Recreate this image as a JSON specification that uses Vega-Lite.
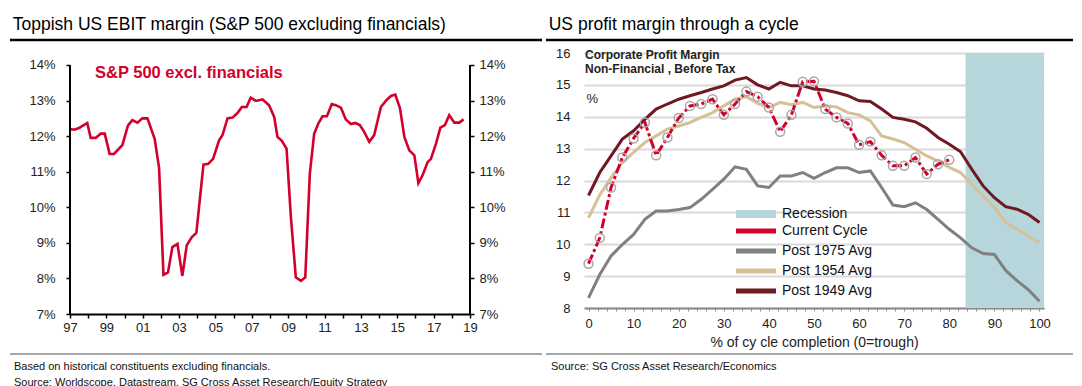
{
  "$schema": "https://vega.github.io/schema/vega-lite/v6.json",
  "padding": {"left": 8, "top": 16, "right": 7, "bottom": 0},
  "spacing": 0,
  "resolve": {"legend": {"color": "independent"}, "scale": {"color": "independent"}},
  "config": {
    "font": "Liberation Sans",
    "view": {"stroke": null},
    "title": {"fontSize": 17.5, "fontWeight": "normal", "color": "#000", "anchor": "start", "frame": "bounds", "dx": 4, "offset": 5}
  },
  "datasets": {
    "ebit": [
      {"year": 1997.00, "margin": 12.2}, {"year": 1997.22, "margin": 12.18}, {"year": 1997.50, "margin": 12.23}, {"year": 1997.95, "margin": 12.37},
      {"year": 1998.14, "margin": 11.95}, {"year": 1998.41, "margin": 11.95}, {"year": 1998.69, "margin": 12.07}, {"year": 1998.91, "margin": 12.07},
      {"year": 1999.18, "margin": 11.5}, {"year": 1999.42, "margin": 11.5}, {"year": 1999.88, "margin": 11.75}, {"year": 2000.19, "margin": 12.3},
      {"year": 2000.43, "margin": 12.45}, {"year": 2000.71, "margin": 12.38}, {"year": 2000.98, "margin": 12.5}, {"year": 2001.26, "margin": 12.5},
      {"year": 2001.66, "margin": 11.92}, {"year": 2001.90, "margin": 11.1}, {"year": 2002.14, "margin": 8.1}, {"year": 2002.39, "margin": 8.17},
      {"year": 2002.63, "margin": 8.88}, {"year": 2002.91, "margin": 8.97}, {"year": 2003.18, "margin": 8.07}, {"year": 2003.42, "margin": 8.93},
      {"year": 2003.70, "margin": 9.16}, {"year": 2003.95, "margin": 9.28}, {"year": 2004.34, "margin": 11.2}, {"year": 2004.61, "margin": 11.22},
      {"year": 2004.87, "margin": 11.36}, {"year": 2005.20, "margin": 11.88}, {"year": 2005.39, "margin": 12.03}, {"year": 2005.66, "margin": 12.5},
      {"year": 2005.94, "margin": 12.52}, {"year": 2006.21, "margin": 12.65}, {"year": 2006.45, "margin": 12.82}, {"year": 2006.71, "margin": 12.82},
      {"year": 2006.94, "margin": 13.08}, {"year": 2007.22, "margin": 12.99}, {"year": 2007.59, "margin": 13.03}, {"year": 2007.95, "margin": 12.87},
      {"year": 2008.23, "margin": 12.54}, {"year": 2008.41, "margin": 11.98}, {"year": 2008.65, "margin": 11.87}, {"year": 2008.91, "margin": 11.65},
      {"year": 2009.15, "margin": 9.72}, {"year": 2009.42, "margin": 8.03}, {"year": 2009.70, "margin": 7.93}, {"year": 2009.94, "margin": 8.03},
      {"year": 2010.19, "margin": 10.94}, {"year": 2010.43, "margin": 12.07}, {"year": 2010.67, "margin": 12.37}, {"year": 2010.89, "margin": 12.56},
      {"year": 2011.13, "margin": 12.56}, {"year": 2011.40, "margin": 12.9}, {"year": 2011.62, "margin": 12.87}, {"year": 2011.90, "margin": 12.8},
      {"year": 2012.17, "margin": 12.47}, {"year": 2012.45, "margin": 12.34}, {"year": 2012.69, "margin": 12.37}, {"year": 2012.94, "margin": 12.31},
      {"year": 2013.18, "margin": 12.12}, {"year": 2013.46, "margin": 11.84}, {"year": 2013.73, "margin": 12.03}, {"year": 2014.10, "margin": 12.82},
      {"year": 2014.38, "margin": 13.0}, {"year": 2014.65, "margin": 13.13}, {"year": 2014.89, "margin": 13.17}, {"year": 2015.15, "margin": 12.78},
      {"year": 2015.39, "margin": 11.98}, {"year": 2015.66, "margin": 11.6}, {"year": 2015.94, "margin": 11.46}, {"year": 2016.16, "margin": 10.68},
      {"year": 2016.39, "margin": 10.9}, {"year": 2016.67, "margin": 11.27}, {"year": 2016.85, "margin": 11.36}, {"year": 2017.13, "margin": 11.79},
      {"year": 2017.37, "margin": 12.24}, {"year": 2017.62, "margin": 12.31}, {"year": 2017.86, "margin": 12.59}, {"year": 2018.14, "margin": 12.38},
      {"year": 2018.41, "margin": 12.38}, {"year": 2018.65, "margin": 12.47}
    ],
    "averages": [
      {"pct": 0, "series": "Post 1975 Avg", "margin": 8.32}, {"pct": 2.5, "series": "Post 1975 Avg", "margin": 9.05}, {"pct": 5, "series": "Post 1975 Avg", "margin": 9.63}, {"pct": 7.5, "series": "Post 1975 Avg", "margin": 9.99},
      {"pct": 10, "series": "Post 1975 Avg", "margin": 10.31}, {"pct": 12.5, "series": "Post 1975 Avg", "margin": 10.78}, {"pct": 15, "series": "Post 1975 Avg", "margin": 11.04}, {"pct": 17.5, "series": "Post 1975 Avg", "margin": 11.04},
      {"pct": 20, "series": "Post 1975 Avg", "margin": 11.09}, {"pct": 22.5, "series": "Post 1975 Avg", "margin": 11.15}, {"pct": 25, "series": "Post 1975 Avg", "margin": 11.41}, {"pct": 27.5, "series": "Post 1975 Avg", "margin": 11.72},
      {"pct": 30, "series": "Post 1975 Avg", "margin": 12.04}, {"pct": 32.5, "series": "Post 1975 Avg", "margin": 12.43}, {"pct": 35, "series": "Post 1975 Avg", "margin": 12.35}, {"pct": 37.5, "series": "Post 1975 Avg", "margin": 11.83},
      {"pct": 40, "series": "Post 1975 Avg", "margin": 11.78}, {"pct": 42.5, "series": "Post 1975 Avg", "margin": 12.14}, {"pct": 45, "series": "Post 1975 Avg", "margin": 12.14}, {"pct": 47.5, "series": "Post 1975 Avg", "margin": 12.25},
      {"pct": 50, "series": "Post 1975 Avg", "margin": 12.07}, {"pct": 52.5, "series": "Post 1975 Avg", "margin": 12.25}, {"pct": 55, "series": "Post 1975 Avg", "margin": 12.4}, {"pct": 57.5, "series": "Post 1975 Avg", "margin": 12.4},
      {"pct": 60, "series": "Post 1975 Avg", "margin": 12.25}, {"pct": 62.5, "series": "Post 1975 Avg", "margin": 12.3}, {"pct": 65, "series": "Post 1975 Avg", "margin": 11.78}, {"pct": 67.5, "series": "Post 1975 Avg", "margin": 11.23},
      {"pct": 70, "series": "Post 1975 Avg", "margin": 11.18}, {"pct": 72.5, "series": "Post 1975 Avg", "margin": 11.3}, {"pct": 75, "series": "Post 1975 Avg", "margin": 11.09}, {"pct": 77.5, "series": "Post 1975 Avg", "margin": 10.78},
      {"pct": 80, "series": "Post 1975 Avg", "margin": 10.47}, {"pct": 82.5, "series": "Post 1975 Avg", "margin": 10.2}, {"pct": 85, "series": "Post 1975 Avg", "margin": 9.89}, {"pct": 87.5, "series": "Post 1975 Avg", "margin": 9.71},
      {"pct": 90, "series": "Post 1975 Avg", "margin": 9.68}, {"pct": 92.5, "series": "Post 1975 Avg", "margin": 9.18}, {"pct": 95, "series": "Post 1975 Avg", "margin": 8.86}, {"pct": 97.5, "series": "Post 1975 Avg", "margin": 8.58},
      {"pct": 100, "series": "Post 1975 Avg", "margin": 8.21},
      {"pct": 0, "series": "Post 1954 Avg", "margin": 10.83}, {"pct": 2.5, "series": "Post 1954 Avg", "margin": 11.55}, {"pct": 5, "series": "Post 1954 Avg", "margin": 12.09}, {"pct": 7.5, "series": "Post 1954 Avg", "margin": 12.56},
      {"pct": 10, "series": "Post 1954 Avg", "margin": 12.88}, {"pct": 12.5, "series": "Post 1954 Avg", "margin": 13.19}, {"pct": 15, "series": "Post 1954 Avg", "margin": 13.4}, {"pct": 17.5, "series": "Post 1954 Avg", "margin": 13.61},
      {"pct": 20, "series": "Post 1954 Avg", "margin": 13.71}, {"pct": 22.5, "series": "Post 1954 Avg", "margin": 13.82}, {"pct": 25, "series": "Post 1954 Avg", "margin": 13.98}, {"pct": 27.5, "series": "Post 1954 Avg", "margin": 14.13},
      {"pct": 30, "series": "Post 1954 Avg", "margin": 14.34}, {"pct": 32.5, "series": "Post 1954 Avg", "margin": 14.55}, {"pct": 35, "series": "Post 1954 Avg", "margin": 14.63}, {"pct": 37.5, "series": "Post 1954 Avg", "margin": 14.42},
      {"pct": 40, "series": "Post 1954 Avg", "margin": 14.29}, {"pct": 42.5, "series": "Post 1954 Avg", "margin": 14.45}, {"pct": 45, "series": "Post 1954 Avg", "margin": 14.38}, {"pct": 47.5, "series": "Post 1954 Avg", "margin": 14.45},
      {"pct": 50, "series": "Post 1954 Avg", "margin": 14.29}, {"pct": 52.5, "series": "Post 1954 Avg", "margin": 14.34}, {"pct": 55, "series": "Post 1954 Avg", "margin": 14.31}, {"pct": 57.5, "series": "Post 1954 Avg", "margin": 14.13},
      {"pct": 60, "series": "Post 1954 Avg", "margin": 14.06}, {"pct": 62.5, "series": "Post 1954 Avg", "margin": 13.87}, {"pct": 65, "series": "Post 1954 Avg", "margin": 13.4}, {"pct": 67.5, "series": "Post 1954 Avg", "margin": 13.3},
      {"pct": 70, "series": "Post 1954 Avg", "margin": 13.19}, {"pct": 72.5, "series": "Post 1954 Avg", "margin": 12.98}, {"pct": 75, "series": "Post 1954 Avg", "margin": 12.77}, {"pct": 77.5, "series": "Post 1954 Avg", "margin": 12.61},
      {"pct": 80, "series": "Post 1954 Avg", "margin": 12.41}, {"pct": 82.5, "series": "Post 1954 Avg", "margin": 12.25}, {"pct": 85, "series": "Post 1954 Avg", "margin": 11.88}, {"pct": 87.5, "series": "Post 1954 Avg", "margin": 11.51},
      {"pct": 90, "series": "Post 1954 Avg", "margin": 11.15}, {"pct": 92.5, "series": "Post 1954 Avg", "margin": 10.68}, {"pct": 95, "series": "Post 1954 Avg", "margin": 10.47}, {"pct": 97.5, "series": "Post 1954 Avg", "margin": 10.26},
      {"pct": 100, "series": "Post 1954 Avg", "margin": 10.05},
      {"pct": 0, "series": "Post 1949 Avg", "margin": 11.53}, {"pct": 2.5, "series": "Post 1949 Avg", "margin": 12.25}, {"pct": 5, "series": "Post 1949 Avg", "margin": 12.77}, {"pct": 7.5, "series": "Post 1949 Avg", "margin": 13.3},
      {"pct": 10, "series": "Post 1949 Avg", "margin": 13.56}, {"pct": 12.5, "series": "Post 1949 Avg", "margin": 13.92}, {"pct": 15, "series": "Post 1949 Avg", "margin": 14.24}, {"pct": 17.5, "series": "Post 1949 Avg", "margin": 14.4},
      {"pct": 20, "series": "Post 1949 Avg", "margin": 14.55}, {"pct": 22.5, "series": "Post 1949 Avg", "margin": 14.66}, {"pct": 25, "series": "Post 1949 Avg", "margin": 14.76}, {"pct": 27.5, "series": "Post 1949 Avg", "margin": 14.87},
      {"pct": 30, "series": "Post 1949 Avg", "margin": 14.97}, {"pct": 32.5, "series": "Post 1949 Avg", "margin": 15.15}, {"pct": 35, "series": "Post 1949 Avg", "margin": 15.23}, {"pct": 37.5, "series": "Post 1949 Avg", "margin": 15.0},
      {"pct": 40, "series": "Post 1949 Avg", "margin": 14.87}, {"pct": 42.5, "series": "Post 1949 Avg", "margin": 15.08}, {"pct": 45, "series": "Post 1949 Avg", "margin": 14.97}, {"pct": 47.5, "series": "Post 1949 Avg", "margin": 14.97},
      {"pct": 50, "series": "Post 1949 Avg", "margin": 14.87}, {"pct": 52.5, "series": "Post 1949 Avg", "margin": 14.84}, {"pct": 55, "series": "Post 1949 Avg", "margin": 14.76}, {"pct": 57.5, "series": "Post 1949 Avg", "margin": 14.66},
      {"pct": 60, "series": "Post 1949 Avg", "margin": 14.5}, {"pct": 62.5, "series": "Post 1949 Avg", "margin": 14.48}, {"pct": 65, "series": "Post 1949 Avg", "margin": 14.24}, {"pct": 67.5, "series": "Post 1949 Avg", "margin": 13.98},
      {"pct": 70, "series": "Post 1949 Avg", "margin": 13.92}, {"pct": 72.5, "series": "Post 1949 Avg", "margin": 13.84}, {"pct": 75, "series": "Post 1949 Avg", "margin": 13.64}, {"pct": 77.5, "series": "Post 1949 Avg", "margin": 13.35},
      {"pct": 80, "series": "Post 1949 Avg", "margin": 13.14}, {"pct": 82.5, "series": "Post 1949 Avg", "margin": 12.9}, {"pct": 85, "series": "Post 1949 Avg", "margin": 12.35}, {"pct": 87.5, "series": "Post 1949 Avg", "margin": 11.83},
      {"pct": 90, "series": "Post 1949 Avg", "margin": 11.46}, {"pct": 92.5, "series": "Post 1949 Avg", "margin": 11.18}, {"pct": 95, "series": "Post 1949 Avg", "margin": 11.1}, {"pct": 97.5, "series": "Post 1949 Avg", "margin": 10.94},
      {"pct": 100, "series": "Post 1949 Avg", "margin": 10.68}
    ],
    "current": [
      {"pct": 0, "margin": 9.39}, {"pct": 2.5, "margin": 10.2}, {"pct": 5, "margin": 11.78}, {"pct": 7.5, "margin": 12.72},
      {"pct": 10, "margin": 13.32}, {"pct": 12.5, "margin": 13.82}, {"pct": 15, "margin": 12.79}, {"pct": 17.5, "margin": 13.35},
      {"pct": 20, "margin": 13.96}, {"pct": 22.5, "margin": 14.34}, {"pct": 25, "margin": 14.4}, {"pct": 27.5, "margin": 14.55},
      {"pct": 30, "margin": 14.06}, {"pct": 32.5, "margin": 14.4}, {"pct": 35, "margin": 14.79}, {"pct": 37.5, "margin": 14.63},
      {"pct": 40, "margin": 14.29}, {"pct": 42.5, "margin": 13.53}, {"pct": 45, "margin": 14.06}, {"pct": 47.5, "margin": 15.1},
      {"pct": 50, "margin": 15.11}, {"pct": 52.5, "margin": 14.24}, {"pct": 55, "margin": 13.98}, {"pct": 57.5, "margin": 13.79},
      {"pct": 60, "margin": 13.12}, {"pct": 62.5, "margin": 13.22}, {"pct": 65, "margin": 12.79}, {"pct": 67.5, "margin": 12.46},
      {"pct": 70, "margin": 12.46}, {"pct": 72.5, "margin": 12.72}, {"pct": 75, "margin": 12.2}, {"pct": 77.5, "margin": 12.51},
      {"pct": 80, "margin": 12.65}
    ],
    "recession": [{"series": "Recession", "start": 83.6, "end": 101}],
    "one": [{}]
  },
  "hconcat": [
    {
      "width": 400,
      "height": 261,
      "title": {"text": "Toppish US EBIT margin (S&P 500 excluding financials)"},
      "resolve": {"axis": {"y": "independent", "x": "independent"}},
      "layer": [
        {
          "data": {"name": "ebit"},
          "mark": {"type": "line", "color": "#d4002c", "strokeWidth": 2.6},
          "encoding": {
            "x": {"field": "year", "type": "quantitative",
              "scale": {"domain": [1997, 2019], "nice": false, "zero": false},
              "axis": {"values": [1997,1998,1999,2000,2001,2002,2003,2004,2005,2006,2007,2008,2009,2010,2011,2012,2013,2014,2015,2016,2017,2018,2019],
                "format": "d", "labelExpr": "datum.value % 2 == 1 ? substring(datum.label, 2) : ''",
                "grid": false, "domainColor": "#000", "domainWidth": 2, "tickColor": "#000", "tickWidth": 1.5, "tickSize": 4,
                "labelPadding": 3, "labelFontSize": 13, "labelColor": "#222", "labelFlush": false, "labelOverlap": false, "title": null}},
            "y": {"field": "margin", "type": "quantitative",
              "scale": {"domain": [7, 14.3373], "nice": false, "zero": false},
              "axis": {"orient": "left", "values": [7,8,9,10,11,12,13,14], "labelExpr": "datum.value + '%'", "grid": false,
                "domain": false, "tickColor": "#000", "tickWidth": 1.5, "tickSize": 4,
                "labelPadding": 11, "labelFontSize": 13, "labelColor": "#222", "labelFlush": false, "title": null}}
          }
        },
        {
          "data": {"name": "one"},
          "mark": {"type": "text", "text": "S&P 500 excl. financials", "align": "left", "baseline": "middle", "fontSize": 16.5, "fontWeight": "bold", "color": "#d4002c"},
          "encoding": {
            "x": {"datum": 1998.375, "type": "quantitative", "axis": null},
            "y": {"datum": 13.775, "type": "quantitative",
              "axis": {"orient": "right", "values": [7,8,9,10,11,12,13,14], "labelExpr": "datum.value + '%'", "grid": false,
                "domain": false, "tickColor": "#000", "tickWidth": 1.5, "tickSize": 4,
                "labelPadding": 5, "labelFontSize": 13, "labelColor": "#222", "labelFlush": false, "title": null}}
          }
        },
        {
          "data": {"name": "one"},
          "mark": {"type": "rule", "color": "#000", "strokeWidth": 2},
          "encoding": {
            "x": {"datum": 1997, "type": "quantitative", "axis": null},
            "y": {"datum": 7, "type": "quantitative", "axis": null},
            "y2": {"datum": 14}
          }
        },
        {
          "data": {"name": "one"},
          "mark": {"type": "rule", "color": "#000", "strokeWidth": 2},
          "encoding": {
            "x": {"datum": 2019, "type": "quantitative", "axis": null},
            "y": {"datum": 7, "type": "quantitative", "axis": null},
            "y2": {"datum": 14}
          }
        },
        {
          "data": {"name": "one"},
          "mark": {"type": "rule", "color": "#000", "strokeWidth": 2.5},
          "encoding": {
            "x": {"datum": 1993.7, "type": "quantitative", "axis": null},
            "x2": {"datum": 2022.96},
            "y": {"datum": 14.703, "type": "quantitative", "axis": null}
          }
        },
        {
          "data": {"name": "one"},
          "mark": {"type": "rule", "color": "#8a8a8a", "strokeWidth": 1.5},
          "encoding": {
            "x": {"datum": 1993.7, "type": "quantitative", "axis": null},
            "x2": {"datum": 2022.96},
            "y": {"datum": 5.875, "type": "quantitative", "axis": null}
          }
        },
        {
          "data": {"name": "one"},
          "mark": {"type": "text", "text": ["Based on historical constituents excluding financials.", "Source: Worldscope, Datastream, SG Cross Asset Research/Equity Strategy"],
            "align": "left", "baseline": "top", "fontSize": 11, "lineHeight": 16, "color": "#111"},
          "encoding": {
            "x": {"datum": 1993.92, "type": "quantitative", "axis": null},
            "y": {"datum": 5.68, "type": "quantitative", "axis": null}
          }
        }
      ]
    },
    {
      "width": 460,
      "height": 255,
      "title": {"text": "US profit margin through a cycle"},
      "resolve": {"axis": {"y": "independent", "x": "independent"}},
      "layer": [
        {
          "data": {"name": "recession"},
          "mark": {"type": "rect"},
          "encoding": {
            "x": {"field": "start", "type": "quantitative",
              "scale": {"domain": [-1, 101], "nice": false, "zero": false},
              "axis": {"values": [0,2,4,6,8,10,12,14,16,18,20,22,24,26,28,30,32,34,36,38,40,42,44,46,48,50,52,54,56,58,60,62,64,66,68,70,72,74,76,78,80,82,84,86,88,90,92,94,96,98,100],
                "labelExpr": "datum.value % 10 == 0 ? datum.label : ''", "grid": false,
                "domainColor": "#8c8c8c", "domainWidth": 2, "tickColor": "#8c8c8c", "tickWidth": 1, "tickSize": 3,
                "labelPadding": 6, "labelFontSize": 13, "labelColor": "#222", "labelFlush": false, "labelOverlap": false,
                "title": "% of cy cle completion (0=trough)", "titleFontSize": 14, "titleFontWeight": "normal", "titleColor": "#222", "titlePadding": 5}},
            "x2": {"field": "end"},
            "color": {"field": "series", "type": "nominal",
              "scale": {"domain": ["Recession", "Current Cycle", "Post 1975 Avg", "Post 1954 Avg", "Post 1949 Avg"],
                "range": ["#b6d6dc", "#d4002c", "#808080", "#d6c197", "#6e1a20"]},
              "legend": {"orient": "none", "legendX": 150, "legendY": 154, "title": null,
                "symbolType": "M-1,0H7", "symbolSize": 100, "symbolStrokeWidth": 5,
                "labelFontSize": 14, "labelColor": "#111", "labelOffset": 34, "rowPadding": 0,
                "encode": {"symbols": {"update": {
                  "shape": {"signal": "datum.value === 'Recession' ? 'M-1,-0.8H7V0.8H-1Z' : 'M-1,0H7'"},
                  "stroke": {"signal": "{'Recession':'#b6d6dc','Current Cycle':'#d4002c','Post 1975 Avg':'#808080','Post 1954 Avg':'#d6c197','Post 1949 Avg':'#6e1a20'}[datum.value]"},
                  "strokeWidth": {"signal": "datum.value === 'Recession' ? 0 : 5"},
                  "fill": {"signal": "datum.value === 'Recession' ? '#b6d6dc' : 'transparent'"},
                  "opacity": {"value": 1}}}}}}
          }
        },
        {
          "data": {"name": "averages"},
          "mark": {"type": "line", "strokeWidth": 3},
          "encoding": {
            "x": {"field": "pct", "type": "quantitative", "axis": null},
            "y": {"field": "margin", "type": "quantitative",
              "scale": {"domain": [8, 16], "nice": false, "zero": false},
              "axis": {"values": [8,9,10,11,12,13,14,15,16], "grid": true, "gridColor": "#d9d9d9", "gridWidth": 2,
                "domain": false, "ticks": false, "labelPadding": 14, "labelFontSize": 13, "labelColor": "#222", "labelFlush": false, "title": null}},
            "color": {"field": "series", "type": "nominal"}
          }
        },
        {
          "data": {"name": "current"},
          "mark": {"type": "line", "strokeWidth": 3, "strokeDash": [10, 3, 3, 3]},
          "encoding": {
            "x": {"field": "pct", "type": "quantitative", "axis": null},
            "y": {"field": "margin", "type": "quantitative", "axis": null},
            "color": {"datum": "Current Cycle", "type": "nominal"}
          }
        },
        {
          "data": {"name": "current"},
          "mark": {"type": "point", "filled": false, "stroke": "#a8a8a8", "strokeWidth": 1.5, "size": 80, "opacity": 1},
          "encoding": {
            "x": {"field": "pct", "type": "quantitative", "axis": null},
            "y": {"field": "margin", "type": "quantitative", "axis": null}
          }
        },
        {
          "data": {"name": "one"},
          "mark": {"type": "text", "text": "Corporate Profit Margin", "align": "left", "baseline": "middle", "fontSize": 12, "fontWeight": "bold", "color": "#222"},
          "encoding": {
            "x": {"datum": -0.78, "type": "quantitative", "axis": null},
            "y": {"datum": 15.94, "type": "quantitative", "axis": null}
          }
        },
        {
          "data": {"name": "one"},
          "mark": {"type": "text", "text": "Non-Financial , Before Tax", "align": "left", "baseline": "middle", "fontSize": 12, "fontWeight": "bold", "color": "#222"},
          "encoding": {
            "x": {"datum": -0.78, "type": "quantitative", "axis": null},
            "y": {"datum": 15.5, "type": "quantitative", "axis": null}
          }
        },
        {
          "data": {"name": "one"},
          "mark": {"type": "text", "text": "%", "align": "left", "baseline": "middle", "fontSize": 13, "color": "#222"},
          "encoding": {
            "x": {"datum": -0.47, "type": "quantitative", "axis": null},
            "y": {"datum": 14.57, "type": "quantitative", "axis": null}
          }
        },
        {
          "data": {"name": "one"},
          "mark": {"type": "rule", "color": "#000", "strokeWidth": 2.5},
          "encoding": {
            "x": {"datum": -9.43, "type": "quantitative", "axis": null},
            "x2": {"datum": 107.43},
            "y": {"datum": 16.408, "type": "quantitative", "axis": null}
          }
        },
        {
          "data": {"name": "one"},
          "mark": {"type": "rule", "color": "#8a8a8a", "strokeWidth": 1.5},
          "encoding": {
            "x": {"datum": -9.43, "type": "quantitative", "axis": null},
            "x2": {"datum": 107.43},
            "y": {"datum": 6.557, "type": "quantitative", "axis": null}
          }
        },
        {
          "data": {"name": "one"},
          "mark": {"type": "text", "text": "Source: SG Cross Asset Research/Economics", "align": "left", "baseline": "middle", "fontSize": 11, "color": "#111"},
          "encoding": {
            "x": {"datum": -8.32, "type": "quantitative", "axis": null},
            "y": {"datum": 6.149, "type": "quantitative", "axis": null}
          }
        }
      ]
    }
  ]
}
